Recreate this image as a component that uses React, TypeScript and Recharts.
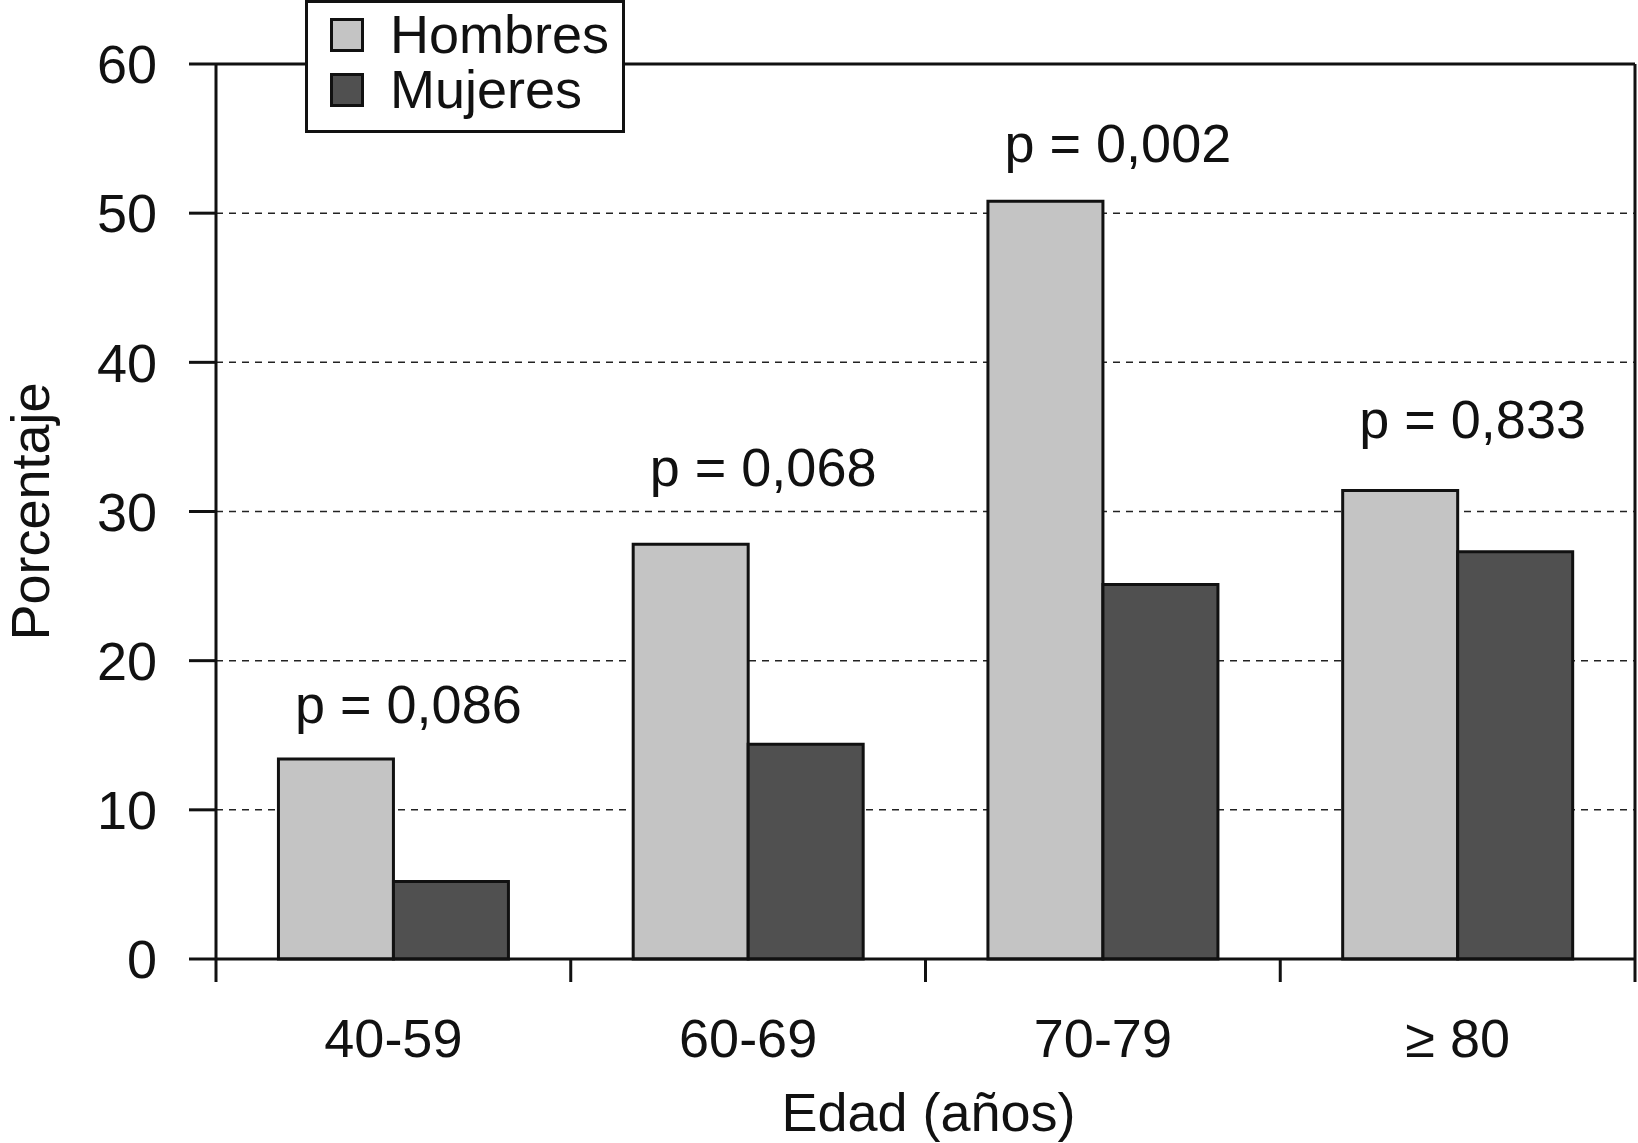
import React from 'react';
import { BarChart, Bar, XAxis, YAxis, CartesianGrid, ReferenceLine, ReferenceDot, Label } from 'recharts';

const FONT = '"Liberation Sans", Arial, Helvetica, sans-serif';

const categories = ['40-59', '60-69', '70-79', '≥ 80'];
const hombres = [13.4, 27.8, 50.8, 31.4];
const mujeres = [5.2, 14.4, 25.1, 27.3];
const pValues = ['p = 0,086', 'p = 0,068', 'p = 0,002', 'p = 0,833'];
const pLabelPos = [15.8, 31.7, 53.4, 34.9];
const yTicks = [0, 10, 20, 30, 40, 50, 60];
const seriesNames = ['Hombres', 'Mujeres'];
const seriesColors = ['#c4c4c4', '#505050'];

const INK = '#111';
const X_TICK_MARGIN = 60;
const X_TICK_LEN = 23;

function XTick(props: any) {
  const { x, y, payload, index } = props;
  const off = payload && payload.offset ? payload.offset : 0;
  const axisY = y - X_TICK_MARGIN;
  const last = index === categories.length - 1;
  return (
    <g>
      <line x1={x - off} x2={x - off} y1={axisY} y2={axisY + X_TICK_LEN} stroke={INK} strokeWidth={3} />
      {last && <line x1={x + off} x2={x + off} y1={axisY} y2={axisY + X_TICK_LEN} stroke={INK} strokeWidth={3} />}
      <text x={x} y={y} dy="0.71em" textAnchor="middle" fontSize={54} fill={INK} fontFamily={FONT}>
        {payload.value}
      </text>
    </g>
  );
}

export default function App() {
  const data = categories.map((c, i) => ({
    cat: c,
    hombres: hombres[i],
    mujeres: mujeres[i],
    pos: pLabelPos[i],
    p: pValues[i],
  }));

  return (
    <div style={{ position: 'absolute', left: 0, top: 0, width: 1638, height: 1143, background: '#fff', fontFamily: FONT }}>
      <BarChart
        width={1638}
        height={1143}
        data={data}
        margin={{ top: 64, right: 0, left: 0, bottom: 0 }}
        barCategoryGap="17.6%"
        barGap={0}
      >
        <CartesianGrid vertical={false} stroke="#222" strokeWidth={1.5} strokeDasharray="7 6" />
        <XAxis
          dataKey="cat"
          interval={0}
          tickLine={false}
          tickSize={0}
          tickMargin={X_TICK_MARGIN}
          height={184}
          axisLine={{ stroke: INK, strokeWidth: 3 }}
          tick={<XTick />}
        >
          <Label
            content={(props: any) => {
              const vb = props.viewBox || {};
              return (
                <text x={vb.x + vb.width / 2 + 3} y={vb.y + 172} textAnchor="middle" fontSize={54} fill={INK} fontFamily={FONT}>
                  Edad (años)
                </text>
              );
            }}
          />
        </XAxis>
        <YAxis
          domain={[0, 60]}
          ticks={yTicks}
          interval={0}
          width={216}
          tickSize={27}
          tickMargin={32}
          axisLine={{ stroke: INK, strokeWidth: 3 }}
          tickLine={{ stroke: INK, strokeWidth: 3 }}
          tick={{ fontSize: 54, fill: INK, fontFamily: FONT }}
        >
          <Label
            content={(props: any) => {
              const vb = props.viewBox || {};
              const cy = vb.y + vb.height / 2;
              return (
                <text transform={`translate(49, ${cy}) rotate(-90)`} x={0} y={0} textAnchor="middle" fontSize={54} fill={INK} fontFamily={FONT}>
                  Porcentaje
                </text>
              );
            }}
          />
        </YAxis>
        <YAxis
          yAxisId="r"
          orientation="right"
          domain={[0, 60]}
          width={3}
          tick={false}
          tickLine={false}
          axisLine={{ stroke: INK, strokeWidth: 3 }}
        />
        <ReferenceLine y={60} stroke={INK} strokeWidth={3} />
        <Bar dataKey="hombres" name={seriesNames[0]} fill={seriesColors[0]} stroke={INK} strokeWidth={3} isAnimationActive={false} />
        <Bar dataKey="mujeres" name={seriesNames[1]} fill={seriesColors[1]} stroke={INK} strokeWidth={3} isAnimationActive={false} />
        {data.map((d) => (
          <ReferenceDot
            key={'p' + d.cat}
            x={d.cat}
            y={d.pos}
            r={1}
            fill="none"
            stroke="none"
            ifOverflow="visible"
            label={(props: any) => {
              const vb = props.viewBox || {};
              return (
                <text x={vb.x + vb.width / 2 + 15} y={vb.y + vb.height / 2} textAnchor="middle" fontSize={54} fill={INK} fontFamily={FONT}>
                  {d.p}
                </text>
              );
            }}
          />
        ))}
      </BarChart>
      <svg width={330} height={140} style={{ position: 'absolute', left: 300, top: 0 }}>
        <rect x={6.5} y={1.5} width={317} height={130} fill="#fff" stroke={INK} strokeWidth={3} />
        {seriesNames.map((n, i) => (
          <g key={n}>
            <rect x={31.5} y={19.5 + i * 55} width={31} height={31} fill={seriesColors[i]} stroke={INK} strokeWidth={3} />
            <text x={90} y={53 + i * 55} fontSize={54} fill={INK} fontFamily={FONT}>
              {n}
            </text>
          </g>
        ))}
      </svg>
    </div>
  );
}
